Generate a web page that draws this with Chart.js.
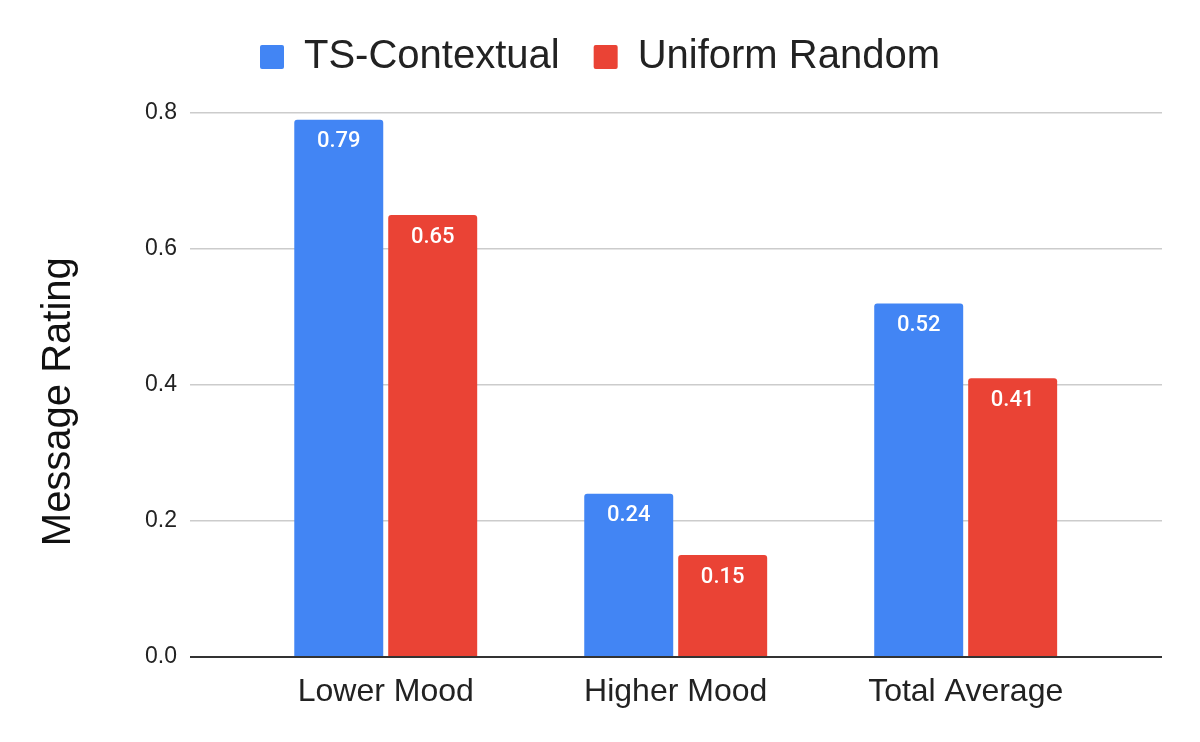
<!DOCTYPE html>
<html>
<head>
<meta charset="utf-8">
<script src="https://cdn.jsdelivr.net/npm/chart.js@4.4.1/dist/chart.umd.min.js"></script>
<style>
  body { margin: 0; background: #fff; }
  #wrap { width: 1200px; height: 742px; }
</style>
</head>
<body>
<div id="wrap"><canvas id="chart"></canvas></div>
<script>
const categories = ['Lower Mood', 'Higher Mood', 'Total Average'];
const tsContextual = [0.79, 0.24, 0.52];
const uniformRandom = [0.65, 0.15, 0.41];
const yTicks = [0, 0.2, 0.4, 0.6, 0.8];

function toPoints(values) {
  return values.map((v, i) => ({ x: i, y: v }));
}

// white value labels inside the top of each bar
const barLabels = {
  id: 'barLabels',
  afterDatasetsDraw(chart) {
    const ctx = chart.ctx;
    ctx.save();
    ctx.font = '500 22px Roboto';
    ctx.fillStyle = '#fff';
    ctx.textAlign = 'center';
    ctx.textBaseline = 'middle';
    chart.data.datasets.forEach((ds, i) => {
      chart.getDatasetMeta(i).data.forEach((bar, j) => {
        ctx.fillText(ds.data[j].y.toFixed(2), bar.x, bar.y + 22);
      });
    });
    ctx.restore();
  }
};

// give the legend a fixed band at the top
const legendSpace = {
  id: 'legendSpace',
  afterInit(chart) {
    const fit = chart.legend.fit;
    chart.legend.fit = function () {
      fit.call(this);
      this.height = 110;
    };
  }
};

const ctx = document.getElementById('chart').getContext('2d');
new Chart(ctx, {
  type: 'bar',
  data: {
    datasets: [
      { label: 'TS-Contextual', data: toPoints(tsContextual), backgroundColor: '#4285F4' },
      { label: 'Uniform Random', data: toPoints(uniformRandom), backgroundColor: '#EA4335' }
    ]
  },
  options: {
    responsive: true,
    maintainAspectRatio: false,
    animation: false,
    layout: { padding: { left: 0, right: 0, top: 3, bottom: 0 } },
    datasets: {
      bar: {
        categoryPercentage: 0.648,
        barPercentage: 0.947,
        borderRadius: 3,
        borderSkipped: 'start'
      }
    },
    plugins: {
      tooltip: { enabled: false },
      legend: {
        position: 'top',
        labels: {
          font: { family: 'Liberation Sans', size: 40 },
          color: '#222',
          boxWidth: 24,
          boxHeight: 24,
          useBorderRadius: true,
          borderRadius: 2,
          padding: 34
        }
      }
    },
    scales: {
      x: {
        type: 'linear',
        min: -0.675,
        max: 2.677,
        offset: false,
        afterBuildTicks(scale) {
          scale.ticks = categories.map((c, i) => ({ value: i }));
        },
        afterFit(scale) { scale.height = 85; },
        grid: { display: false, offset: false },
        border: { display: false },
        ticks: {
          callback: v => categories[v],
          autoSkip: false,
          maxRotation: 0,
          padding: 8,
          color: '#222',
          font: { family: 'Liberation Sans', size: 32 }
        }
      },
      y: {
        min: 0,
        max: 0.8,
        afterBuildTicks(scale) {
          scale.ticks = yTicks.map(v => ({ value: v }));
        },
        afterFit(scale) { scale.width = 190; },
        border: { display: false },
        grid: {
          drawTicks: false,
          color: c => c.tick.value === 0 ? '#333' : '#ccc',
          lineWidth: c => c.tick.value === 0 ? 2 : 1.5
        },
        ticks: {
          callback: v => v.toFixed(1),
          padding: 13,
          color: '#222',
          font: { family: 'Liberation Sans', size: 23 }
        },
        title: {
          display: true,
          text: 'Message Rating   ',
          color: '#111',
          font: { family: 'Liberation Sans', size: 40 },
          padding: { top: 35, bottom: 0 }
        }
      },
      // empty strip on the right so the plot ends where the reference does
      yRight: {
        type: 'linear',
        position: 'right',
        afterFit(scale) { scale.width = 38; },
        grid: { display: false },
        border: { display: false },
        ticks: { display: false }
      }
    }
  },
  plugins: [barLabels, legendSpace]
});
</script>
</body>
</html>
